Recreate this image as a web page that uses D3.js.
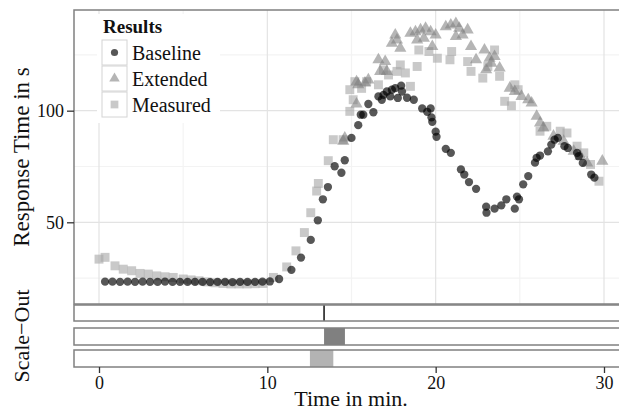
<!DOCTYPE html>
<html>
<head>
<meta charset="utf-8">
<script src="https://cdn.jsdelivr.net/npm/d3@7"></script>
<style>
  html, body { margin: 0; padding: 0; background: #fff; }
  svg { display: block; }
  text { font-family: "Liberation Serif", "DejaVu Serif", serif; fill: #111; }
</style>
</head>
<body>
<svg id="chart" width="619" height="412"></svg>
<script>
// ---------------- data ----------------
const seriesNames = ["Baseline", "Extended", "Measured"];

const baselineTime = [0.36, 0.80, 1.25, 1.70, 2.14, 2.59, 3.03, 3.48, 3.92, 4.37, 4.81, 5.26, 5.70, 6.15, 6.60, 7.04, 7.49, 7.93, 8.38, 8.82, 9.27, 9.71, 10.15,
  10.70, 11.43, 12.00, 12.58, 13.00, 13.30, 13.60, 14.00, 14.40, 14.60, 15.00, 15.40, 15.55, 15.70, 16.00, 16.30,
  16.60, 16.80, 16.90, 17.10, 17.30, 17.40, 17.60, 17.75, 17.95, 18.00, 18.30, 18.70, 19.20, 19.50, 19.70, 19.75, 19.80,
  20.00, 20.05, 20.60, 20.90, 21.50, 21.70, 21.98, 22.40, 23.00, 23.02, 23.50, 23.90, 24.20, 24.70, 24.83, 24.95,
  25.20, 25.50, 25.90, 26.00, 26.20, 26.67, 26.87, 27.06, 27.26, 27.65, 27.85, 28.40, 28.50, 28.74, 29.24, 29.43];
const baselineValue = [23.4, 23.4, 23.3, 23.4, 23.3, 23.4, 23.3, 23.3, 23.4, 23.3, 23.3, 23.3, 23.3, 23.3, 23.2, 23.3, 23.3, 23.2, 23.3, 23.3, 23.3, 23.4, 23.5,
  24.6, 28.7, 34.2, 42.1, 50.9, 60.3, 65.8, 75.1, 72.2, 77.8, 87.8, 93.5, 98.2, 98.2, 103.0, 99.3,
  106.4, 104.9, 107.1, 108.6, 106.4, 109.4, 110.1, 105.7, 111.2, 108.6, 105.8, 104.9, 101.0, 99.5, 101.0, 97.0, 95.0,
  90.6, 88.3, 82.9, 81.1, 73.7, 71.4, 68.0, 65.0, 57.0, 54.3, 56.1, 57.6, 60.3, 56.1, 61.5, 60.3,
  67.0, 70.7, 76.7, 78.9, 79.9, 81.8, 84.8, 87.0, 87.8, 84.1, 83.3, 81.1, 79.6, 76.6, 71.4, 70.0];

const extendedTime = [14.51, 14.60, 15.30, 15.30, 15.40, 15.80, 16.00, 16.60, 16.70, 17.00, 17.10, 17.40, 17.60, 17.70, 17.90,
  18.50, 18.80, 18.90, 19.10, 19.30, 19.40, 19.70, 19.80, 20.00, 20.60, 20.90, 21.20, 21.20, 21.40, 21.60, 21.90,
  22.10, 22.40, 22.90, 23.00, 23.20, 23.30, 23.50, 23.80, 24.40, 24.70, 25.10, 25.50, 25.70, 26.00, 26.20, 26.40,
  27.00, 27.60, 28.20, 28.60, 29.00, 29.90];
const extendedValue = [86.3, 87.8, 103.0, 113.0, 111.6, 112.4, 113.8, 122.8, 117.6, 122.0, 117.6, 130.2, 133.9, 131.7, 128.0,
  134.7, 135.4, 131.7, 136.2, 132.4, 136.9, 135.4, 128.7, 133.9, 137.6, 138.4, 139.1, 133.2, 136.9, 133.9, 136.2,
  128.7, 122.8, 127.2, 118.3, 123.5, 121.3, 124.3, 119.1, 110.1, 108.6, 106.4, 104.9, 103.4, 97.5, 94.5, 92.3,
  88.6, 86.3, 81.8, 79.6, 76.6, 77.4];

const measuredTime = [0.00, 0.36, 0.95, 1.44, 1.94, 2.44, 2.93, 3.43, 3.92, 4.41, 5.00, 5.47, 5.94, 6.42, 6.90, 7.37, 7.84, 8.32, 8.79, 9.27, 9.74,
  10.36, 11.15, 11.70, 12.20, 12.58, 12.93, 13.03, 13.62, 13.92, 14.50, 14.90, 14.90, 15.10, 15.20, 15.60, 15.90,
  16.60, 16.90, 17.20, 17.70, 17.90, 18.20, 18.50, 18.90, 19.00, 19.60, 20.10, 20.85, 20.95, 21.90, 22.10,
  22.80, 23.10, 23.50, 23.80, 24.10, 24.50, 24.70, 24.90, 26.20, 26.60, 27.40, 27.80, 28.40, 28.80, 29.20, 29.70];
const measuredValue = [33.5, 34.3, 30.5, 29.0, 28.3, 27.1, 26.8, 26.0, 25.6, 25.3, 24.6, 24.2, 23.8, 23.3, 22.9, 22.6, 22.4, 22.4, 22.4, 22.5, 22.6,
  25.3, 30.0, 37.2, 45.4, 54.3, 64.0, 67.4, 77.6, 87.0, 87.0, 99.7, 109.4, 104.9, 113.0, 110.0, 113.0,
  111.6, 118.3, 116.0, 117.6, 120.5, 116.9, 110.9, 119.8, 127.2, 126.5, 123.5, 122.8, 126.5, 122.0, 117.6,
  114.6, 119.8, 127.2, 115.4, 104.2, 102.2, 111.6, 109.4, 90.8, 93.0, 90.8, 90.0, 84.1, 81.1, 75.9, 68.4];

// scale-out intervals (minutes), one row per series
const scaleOutStart = [13.37, 13.37, 12.53];
const scaleOutEnd   = [13.37, 14.61, 13.92];

const xMajorTicks = [0, 10, 20, 30];
const xMinorTicks = [5, 15, 25];
const yMajorTicks = [50, 100];
const yMinorTicks = [25, 75, 125];

// ---------------- layout ----------------
const svg = d3.select("#chart");
const panel = { left: 74, right: 640, top: 10, bottom: 304 };
const bars = [ {y0: 305, y1: 321}, {y0: 328, y1: 345}, {y0: 350, y1: 367} ];

const x = d3.scaleLinear().domain([0, 30]).range([99, 604]);
const y = d3.scaleLinear().domain([13.4, 145.1]).range([panel.bottom, panel.top]);

const gridMajor = "#e3e3e3", gridMinor = "#f3f3f3", border = "#808080";

// panel background + grid
svg.append("rect").attr("x", panel.left).attr("y", panel.top)
  .attr("width", panel.right - panel.left).attr("height", panel.bottom - panel.top).attr("fill", "#fff");

const grid = svg.append("g");
grid.selectAll(".ymin").data(yMinorTicks).join("line")
  .attr("x1", panel.left).attr("x2", panel.right).attr("y1", d => y(d)).attr("y2", d => y(d))
  .attr("stroke", gridMinor).attr("stroke-width", 1.2);
grid.selectAll(".xmin").data(xMinorTicks).join("line")
  .attr("y1", panel.top).attr("y2", panel.bottom).attr("x1", d => x(d)).attr("x2", d => x(d))
  .attr("stroke", gridMinor).attr("stroke-width", 1.2);
grid.selectAll(".ymaj").data(yMajorTicks).join("line")
  .attr("x1", panel.left).attr("x2", panel.right).attr("y1", d => y(d)).attr("y2", d => y(d))
  .attr("stroke", gridMajor).attr("stroke-width", 1.2);
grid.selectAll(".xmaj").data(xMajorTicks).join("line")
  .attr("y1", panel.top).attr("y2", panel.bottom).attr("x1", d => x(d)).attr("x2", d => x(d))
  .attr("stroke", gridMajor).attr("stroke-width", 1.2);

// series styles
const style = {
  Baseline: { shape: d3.symbolCircle, size: 54, fill: "#000", op: 0.66 },
  Extended: { shape: d3.symbolTriangle, size: 64, fill: "#808080", op: 0.58 },
  Measured: { shape: d3.symbolSquare, size: 80, fill: "#a8a8a8", op: 0.62 }
};
const seriesData = {
  Baseline: baselineTime.map((t, i) => ({ t, v: baselineValue[i] })),
  Extended: extendedTime.map((t, i) => ({ t, v: extendedValue[i] })),
  Measured: measuredTime.map((t, i) => ({ t, v: measuredValue[i] }))
};

const pts = svg.append("g");
["Measured", "Extended", "Baseline"].forEach(name => {
  const s = style[name];
  pts.append("g").selectAll("path").data(seriesData[name]).join("path")
    .attr("transform", d => `translate(${x(d.t)},${y(d.v)})`)
    .attr("d", d3.symbol().type(s.shape).size(s.size))
    .attr("fill", s.fill).attr("fill-opacity", s.op);
});

// panel border
svg.append("rect").attr("x", panel.left).attr("y", panel.top)
  .attr("width", panel.right - panel.left).attr("height", panel.bottom - panel.top)
  .attr("fill", "none").attr("stroke", border).attr("stroke-width", 1.5);

// y axis
const yAxis = svg.append("g").attr("transform", `translate(${panel.left},0)`)
  .call(d3.axisLeft(y).tickValues(yMajorTicks).tickSize(7).tickPadding(3));
yAxis.select(".domain").remove();
yAxis.selectAll("line").attr("stroke", "#333").attr("stroke-width", 1.3);
yAxis.selectAll("text").attr("font-size", 18).attr("font-family", "Liberation Serif").attr("fill", "#111");

// legend
const lg = svg.append("g");
lg.append("rect").attr("x", 97).attr("y", 14).attr("width", 123).attr("height", 109).attr("fill", "#fff");
lg.append("text").attr("x", 103).attr("y", 33).attr("font-size", 19).attr("font-weight", "bold").text("Results");
const keyY = [40, 66, 92];
seriesNames.forEach((name, i) => {
  const s = style[name];
  lg.append("rect").attr("x", 102).attr("y", keyY[i]).attr("width", 25).attr("height", 25)
    .attr("fill", "#fff").attr("stroke", "#d4d4d4").attr("stroke-width", 1);
  lg.append("path").attr("transform", `translate(114.5,${keyY[i] + 12.5})`)
    .attr("d", d3.symbol().type(s.shape).size(s.size * 0.75))
    .attr("fill", s.fill).attr("fill-opacity", s.op);
  lg.append("text").attr("x", 132).attr("y", keyY[i] + 19.5).attr("font-size", 20).text(name);
});

// scale-out bars
const barColors = ["#111", "#808080", "#b3b3b3"];
bars.forEach((b, i) => {
  svg.append("rect").attr("x", panel.left).attr("y", b.y0).attr("width", panel.right - panel.left)
    .attr("height", b.y1 - b.y0).attr("fill", "#fff");
  if (scaleOutEnd[i] > scaleOutStart[i]) {
    svg.append("rect").attr("x", x(scaleOutStart[i])).attr("y", b.y0)
      .attr("width", x(scaleOutEnd[i]) - x(scaleOutStart[i])).attr("height", b.y1 - b.y0)
      .attr("fill", barColors[i]);
  } else {
    svg.append("line").attr("x1", x(scaleOutStart[i])).attr("x2", x(scaleOutStart[i]))
      .attr("y1", b.y0).attr("y2", b.y1).attr("stroke", barColors[i]).attr("stroke-width", 1.5);
  }
  svg.append("rect").attr("x", panel.left).attr("y", b.y0).attr("width", panel.right - panel.left)
    .attr("height", b.y1 - b.y0).attr("fill", "none").attr("stroke", border).attr("stroke-width", 1.5);
});

// x axis
const xAxis = svg.append("g").attr("transform", `translate(0,${bars[2].y1})`)
  .call(d3.axisBottom(x).tickValues(xMajorTicks).tickSize(6).tickPadding(3).tickFormat(d3.format("d")));
xAxis.select(".domain").remove();
xAxis.selectAll("line").attr("stroke", "#333").attr("stroke-width", 1.3);
xAxis.selectAll("text").attr("font-size", 18).attr("font-family", "Liberation Serif").attr("fill", "#111");

// axis titles
svg.append("text").attr("x", 351).attr("y", 406).attr("text-anchor", "middle").attr("font-size", 22)
  .text("Time in min.");
svg.append("text").attr("transform", "translate(29,157) rotate(-90)").attr("text-anchor", "middle")
  .attr("font-size", 23).text("Response Time in s");
svg.append("text").attr("transform", "translate(29,336) rotate(-90)").attr("text-anchor", "middle")
  .attr("font-size", 22).text("Scale\u2212Out");
</script>
</body>
</html>
